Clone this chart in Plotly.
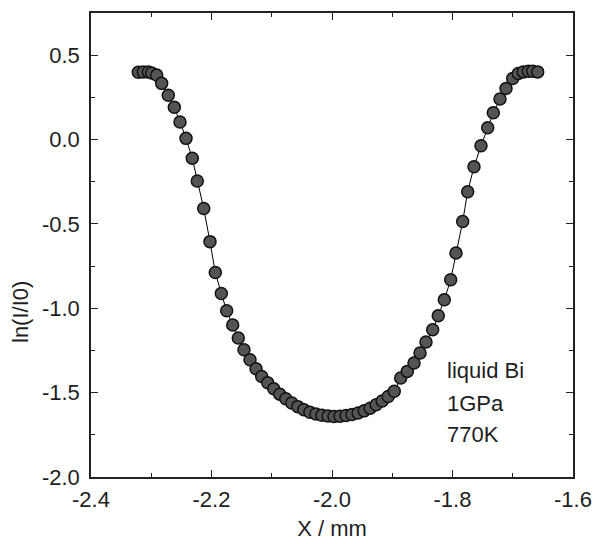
import plotly.graph_objects as go

# Position along the sample (mm)
x_mm = [
    -2.3215, -2.3132, -2.3049, -2.2993, -2.2910, -2.2827, -2.2717, -2.2617,
    -2.2523, -2.2423, -2.2319, -2.2236, -2.2129, -2.2025, -2.1937, -2.1837,
    -2.1748, -2.1648, -2.1555, -2.1461, -2.1361, -2.1261, -2.1167,
    -2.1067, -2.0967, -2.0867, -2.0767, -2.0667, -2.0567, -2.0467, -2.0367,
    -2.0267, -2.0167, -2.0067, -1.9967, -1.9867, -1.9767, -1.9667, -1.9567,
    -1.9467, -1.9367, -1.9267, -1.9167, -1.9067, -1.8967,
    -1.8860, -1.8750, -1.8639, -1.8539, -1.8440, -1.8329, -1.8236, -1.8136,
    -1.8030, -1.7942, -1.7831, -1.7748, -1.7643, -1.7527, -1.7416, -1.7323,
    -1.7212, -1.7112, -1.7001, -1.6908, -1.6825, -1.6742, -1.6669, -1.6586,
]

# ln(I/I0)
ln_ratio = [
    0.399, 0.400, 0.400, 0.395, 0.382, 0.333, 0.263, 0.191,
    0.104, 0.007, -0.111, -0.246, -0.409, -0.605, -0.788, -0.912,
    -1.015, -1.099, -1.176, -1.246, -1.305, -1.358, -1.404,
    -1.442, -1.477, -1.509, -1.536, -1.561, -1.583, -1.601, -1.616,
    -1.627, -1.634, -1.639, -1.641, -1.640, -1.636, -1.630, -1.621,
    -1.608, -1.592, -1.572, -1.550, -1.523, -1.492,
    -1.413, -1.374, -1.324, -1.265, -1.200, -1.127, -1.044, -0.950,
    -0.831, -0.673, -0.486, -0.309, -0.161, -0.037, 0.070, 0.159,
    0.240, 0.303, 0.362, 0.392, 0.401, 0.405, 0.405, 0.401,
]

x_ticks = [-2.4, -2.2, -2.0, -1.8, -1.6]
x_tick_text = ["-2.4", "-2.2", "-2.0", "-1.8", "-1.6"]
y_ticks = [-2.0, -1.5, -1.0, -0.5, 0.0, 0.5]
y_tick_text = ["-2.0", "-1.5", "-1.0", "-0.5", "0.0", "0.5"]
label_lines = ["liquid Bi", "1GPa", "770K"]
label_y = [-1.37, -1.565, -1.75]

FONT = "Liberation Sans, Arial, Helvetica, sans-serif"
FS = 22
TXT = "#1e1e1e"

W, H = 594, 544
ML, MR, MT, MB = 91, 21, 13, 67
PW, PH = W - ML - MR, H - MT - MB

fig = go.Figure()
fig.add_trace(go.Scatter(
    x=x_mm, y=ln_ratio, mode="lines+markers",
    line=dict(color="black", width=1),
    marker=dict(size=12, color="#545454", line=dict(color="#111111", width=1.5)),
    showlegend=False,
))

for txt, yy in zip(label_lines, label_y):
    fig.add_annotation(x=-1.813, y=yy, xref="x", yref="y", text=txt,
                       showarrow=False, xanchor="left", yanchor="middle",
                       font=dict(family=FONT, size=FS, color=TXT))

# y-axis title placed at its pixel position in the reference
fig.add_annotation(x=(20 - ML) / PW, y=(H - MB - 312) / PH,
                   xref="paper", yref="paper", text="ln(I/I0)",
                   showarrow=False, textangle=-90,
                   xanchor="center", yanchor="middle",
                   font=dict(family=FONT, size=FS, color=TXT))

axis_common = dict(
    showline=True, linecolor="#222", linewidth=1.5, mirror="ticks",
    ticks="inside", ticklen=7, tickwidth=1.2, tickcolor="#222",
    showgrid=False, zeroline=False, automargin=False,
    tickfont=dict(family=FONT, size=FS, color=TXT),
)

fig.update_xaxes(range=[-2.4, -1.6], tickvals=x_ticks, ticktext=x_tick_text,
                 minor=dict(ticks="inside", ticklen=4, dtick=0.1, tick0=-2.4, tickcolor="#222"),
                 ticklabelstandoff=2,
                 title=dict(text="X / mm", font=dict(family=FONT, size=FS, color=TXT), standoff=9),
                 **axis_common)
fig.update_yaxes(range=[-2.0, 0.75], tickvals=y_ticks, ticktext=y_tick_text,
                 minor=dict(ticks="inside", ticklen=4, dtick=0.25, tick0=-2.0, tickcolor="#222"),
                 ticklabelstandoff=5,
                 **axis_common)

fig.update_layout(
    width=W, height=H,
    margin=dict(l=ML, r=MR, t=MT, b=MB, autoexpand=False),
    plot_bgcolor="white", paper_bgcolor="white",
)

fig.write_html("out.html")
